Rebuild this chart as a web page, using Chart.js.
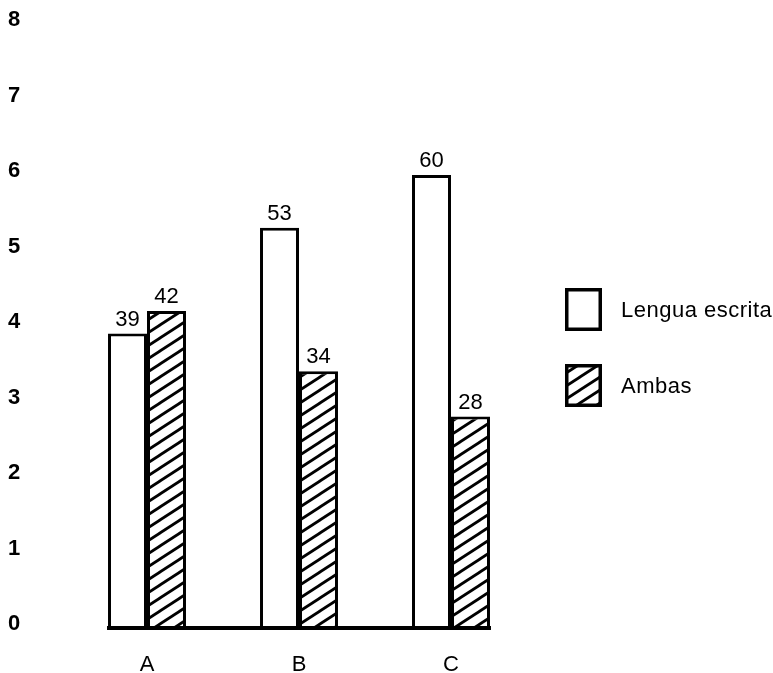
<!DOCTYPE html>
<html>
<head>
<meta charset="utf-8">
<script src="https://cdn.jsdelivr.net/npm/chart.js@4"></script>
<style>
  html, body { margin: 0; padding: 0; background: #ffffff; }
  #wrap { width: 773px; height: 673px; }
</style>
</head>
<body>
<div id="wrap"><canvas id="c" width="773" height="673"></canvas></div>
<script>
const categories = ['A', 'B', 'C'];
const seriesNames = ['Lengua escrita', 'Ambas'];
const lenguaEscrita = [39, 53, 60];
const ambas = [42, 34, 28];
const yTickLabels = ['0', '1', '2', '3', '4', '5', '6', '7', '8'];

const FONT = 'Arial, "Liberation Sans", sans-serif';

function makeHatch() {
  const w = 20, h = 13;
  const c = document.createElement('canvas');
  c.width = w; c.height = h;
  const g = c.getContext('2d');
  g.fillStyle = '#ffffff';
  g.fillRect(0, 0, w, h);
  g.strokeStyle = '#000000';
  g.lineWidth = 2.8;
  for (const k of [-1, 0, 1]) {
    g.beginPath();
    g.moveTo(-4, h + 4 * h / w + h * k);
    g.lineTo(w + 4, -4 * h / w + h * k);
    g.stroke();
  }
  return g.createPattern(c, 'repeat');
}
const hatch = makeHatch();

const baselinePlugin = {
  id: 'baseline',
  afterDatasetsDraw(chart) {
    const first = chart.getDatasetMeta(0).data[0];
    const lastMeta = chart.getDatasetMeta(chart.data.datasets.length - 1);
    const last = lastMeta.data[lastMeta.data.length - 1];
    const y = chart.scales.y.getPixelForValue(0);
    const ctx = chart.ctx;
    ctx.save();
    ctx.strokeStyle = '#000';
    ctx.lineWidth = 4;
    ctx.beginPath();
    ctx.moveTo(first.x - first.width / 2 - 1, y);
    ctx.lineTo(last.x + last.width / 2 + 1, y);
    ctx.stroke();
    ctx.restore();
  }
};

const valueLabelPlugin = {
  id: 'valueLabels',
  afterDatasetsDraw(chart) {
    const ctx = chart.ctx;
    ctx.save();
    ctx.fillStyle = '#000';
    ctx.font = '22px ' + FONT;
    ctx.textAlign = 'center';
    ctx.textBaseline = 'alphabetic';
    chart.data.datasets.forEach((ds, di) => {
      chart.getDatasetMeta(di).data.forEach((bar, i) => {
        ctx.fillText(String(ds.data[i]), bar.x, bar.y - 8);
      });
    });
    ctx.restore();
  }
};

const legendPlugin = {
  id: 'customLegend',
  afterDraw(chart) {
    const ctx = chart.ctx;
    const x0 = chart.chartArea.right + 38;
    const tops = [288, 364];
    ctx.save();
    chart.data.datasets.forEach((ds, i) => {
      const y = tops[i];
      ctx.fillStyle = ds.backgroundColor;
      ctx.fillRect(x0, y, 37, 43);
      ctx.strokeStyle = '#000';
      ctx.lineWidth = 3.5;
      ctx.strokeRect(x0 + 1.75, y + 1.75, 33.5, 39.5);
      ctx.fillStyle = '#000';
      ctx.font = '22px ' + FONT;
      if ('letterSpacing' in ctx) ctx.letterSpacing = '0.5px';
      ctx.textAlign = 'left';
      ctx.textBaseline = 'alphabetic';
      ctx.fillText(ds.label, x0 + 56, y + 29);
    });
    ctx.restore();
  }
};

new Chart(document.getElementById('c'), {
  type: 'bar',
  data: {
    labels: categories,
    datasets: [
      {
        label: seriesNames[0],
        data: lenguaEscrita,
        backgroundColor: '#ffffff',
        borderColor: '#000000',
        borderWidth: 3,
        borderSkipped: 'bottom',
        categoryPercentage: 0.513,
        barPercentage: 1.0
      },
      {
        label: seriesNames[1],
        data: ambas,
        backgroundColor: hatch,
        borderColor: '#000000',
        borderWidth: 3,
        borderSkipped: 'bottom',
        categoryPercentage: 0.513,
        barPercentage: 1.0
      }
    ]
  },
  options: {
    responsive: false,
    animation: false,
    devicePixelRatio: 1,
    layout: { padding: { left: 8, right: 246, top: 24, bottom: 0 } },
    plugins: {
      legend: { display: false },
      tooltip: { enabled: false }
    },
    scales: {
      x: {
        grid: { display: false, drawTicks: false },
        border: { display: false },
        afterFit: (s) => { s.height = 45; },
        ticks: {
          color: '#000',
          padding: 24,
          font: { family: FONT, size: 22 }
        }
      },
      y: {
        min: 0,
        max: 80,
        grid: { display: false, drawTicks: false },
        border: { display: false },
        afterFit: (s) => { s.width = 63; },
        ticks: {
          stepSize: 10,
          color: '#000',
          padding: 2,
          crossAlign: 'far',
          labelOffset: -4,
          font: { family: FONT, size: 22, weight: 'bold' },
          callback: (v, i) => yTickLabels[i]
        }
      }
    }
  },
  plugins: [baselinePlugin, valueLabelPlugin, legendPlugin]
});
</script>
</body>
</html>
